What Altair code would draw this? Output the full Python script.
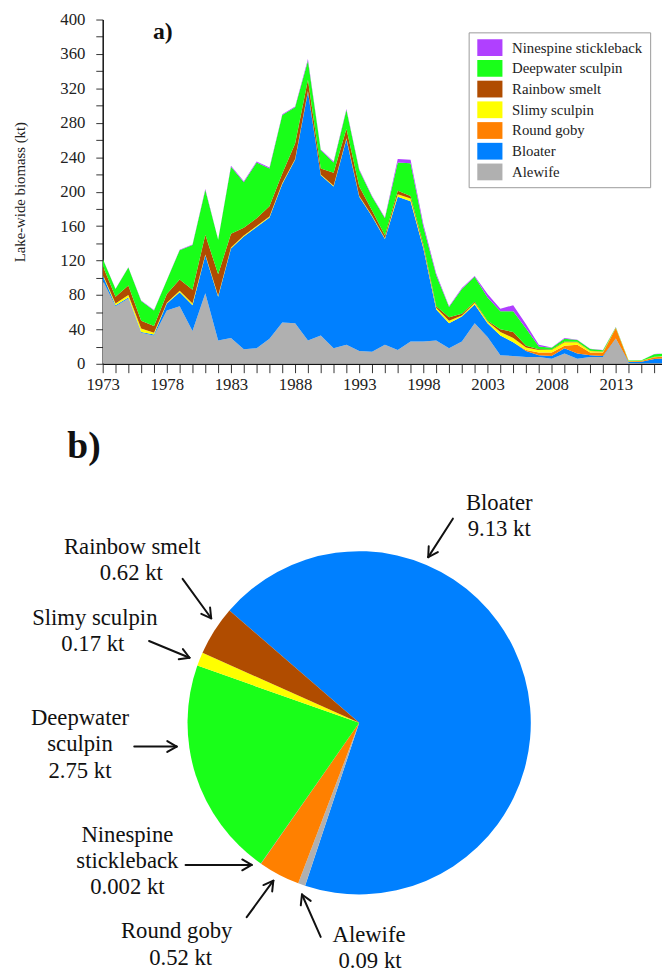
import math
import altair as alt
import pandas as pd

# ---------------- data: panel a (stacked biomass, kt) ----------------
years = list(range(1973, 2018))
alewife = [97, 67, 76, 36, 33, 62, 67, 38, 82, 27, 30, 17, 18, 29, 48, 47, 27, 33, 18, 22,
           15, 14, 22, 16, 26, 26, 27, 18, 26, 47, 31, 10, 9, 8, 8, 6, 12, 6, 8, 8,
           29, 1, 0.5, 0.5, 0.5]
bloater = [6, 1, 1, 1, 1, 8, 16, 30, 44, 51, 104, 131, 141, 141, 161, 190, 289, 186, 188, 239,
           179, 157, 123, 178, 163, 108, 36, 29, 29, 22, 16, 23, 16, 7, 2, 3, 6, 6, 2, 1,
           0.5, 1, 2, 5, 6]
round_goby = [0, 0, 0, 0, 0, 0, 0, 0, 0, 0, 0, 0, 0, 0, 0, 0, 0, 0, 0, 0,
              0, 0, 0, 0, 0, 0, 0, 0, 0, 0, 0, 0, 0, 1, 3, 4, 3, 10, 3, 4,
              12, 1, 0.8, 2, 2]
slimy_sculpin = [1, 2, 3, 4, 2, 1, 2, 2, 1, 1, 1, 1, 1, 1, 1, 1, 1, 1, 1, 1,
                 1, 1, 1, 3, 3, 2, 2, 3, 1, 2, 2, 4, 5, 3, 3, 3, 4, 3, 2, 1,
                 0.3, 0.2, 0.2, 0.5, 0.5]
rainbow_smelt = [10, 8, 11, 9, 8, 10, 13, 16, 23, 25, 16, 9, 9, 12, 11, 18, 13, 7, 15, 11,
                 11, 6, 3, 4, 3, 3, 2, 4, 2, 1, 1, 3, 7, 2, 1, 0.5, 1, 0.5, 0.2, 0.2,
                 0.2, 0.1, 0.1, 0.2, 0.2]
deepwater_sculpin = [8, 9, 21, 23, 18, 16, 34, 52, 52, 40, 78, 53, 65, 44, 68, 42, 22, 21, 12, 22,
                     19, 16, 20, 33, 38, 20, 36, 12, 29, 29, 27, 21, 24, 20, 3, 2, 3, 2, 2, 1.5,
                     0.5, 0.5, 0.5, 3, 3]
ninespine_stickleback = [0.3, 0.3, 0.3, 0.5, 0.5, 0.5, 0.5, 0.5, 1, 0.5, 1, 1, 1, 1, 1, 1, 2, 1, 1, 1,
                         1, 1, 1, 4, 4, 3, 2, 1, 1, 1, 4, 3, 7, 5, 2, 0.5, 1, 0.5, 0.3, 0.3,
                         0.2, 0.1, 0.1, 0.2, 0.2]

# legend order (top to bottom) and colours
species = ["Ninespine stickleback", "Deepwater sculpin", "Rainbow smelt", "Slimy sculpin",
           "Round goby", "Bloater", "Alewife"]
colors = ["#B040FF", "#19FF19", "#B04C00", "#FFFF00", "#FF8000", "#0080FF", "#B0B0B0"]

# ---------------- data: panel b (pie, kt) ----------------
pie_species = ["Bloater", "Alewife", "Round goby", "Ninespine stickleback",
               "Deepwater sculpin", "Slimy sculpin", "Rainbow smelt"]
pie_values = [9.13, 0.09, 0.52, 0.002, 2.75, 0.17, 0.62]

# ---------------- tables ----------------
series = {
    "Alewife": alewife, "Bloater": bloater, "Round goby": round_goby,
    "Slimy sculpin": slimy_sculpin, "Rainbow smelt": rainbow_smelt,
    "Deepwater sculpin": deepwater_sculpin, "Ninespine stickleback": ninespine_stickleback,
}
rows = []
for rank, (sp, vals) in enumerate(series.items()):
    for yr, v in zip(years, vals):
        rows.append({"year": yr, "species": sp, "biomass": v, "rank": rank})
df = pd.DataFrame(rows)

pie_df = pd.DataFrame({
    "species": pie_species,
    "value": pie_values,
    "pord": list(range(len(pie_species))),
    "vtext": [f"{v} kt" for v in pie_values],
})

# ---------------- layout (pixels relative to plot origin) ----------------
OX, OY = 101, 15  # plot origin in the page
W, H = 567, 349
BDY = 5           # vertical nudge for panel b
SERIF = "Liberation Serif, Times New Roman, DejaVu Serif, serif"

def rel(x, y):
    return x - OX, y - OY

def relb(x, y):
    return x - OX, y - OY + BDY

name_lines = {
    "Deepwater sculpin": ["Deepwater", "sculpin"],
    "Ninespine stickleback": ["Ninespine", "stickleback"],
}
label_pos = {
    "Bloater": [(503, 500), (503, 527)],
    "Rainbow smelt": [(131, 545), (130, 571)],
    "Slimy sculpin": [(93, 617), (91, 643)],
    "Deepwater sculpin": [(78, 718), (78, 745), (78, 772)],
    "Ninespine stickleback": [(126, 837), (126, 863), (126, 889)],
    "Round goby": [(176, 934), (180, 961)],
    "Alewife": [(371, 938), (372, 965)],
}
arrows = [
    ((456, 516), (431, 555)),
    ((182, 577), (211, 617)),
    ((148, 640), (189, 657)),
    ((133, 747), (176, 747)),
    ((185, 867), (252, 867)),
    ((247, 920), (274, 883)),
    ((322, 940), (303, 897)),
]
PIE_C = relb(361, 723)
PIE_R = 174
start = math.radians(310.9)

# ---------------- chart ----------------
color_enc = alt.Color(
    "species:N",
    scale=alt.Scale(domain=species, range=colors),
    legend=alt.Legend(
        title=None, orient="none", legendX=371, legendY=13,
        symbolType="M-1.5,-1L1.5,-1L1.5,1L-1.5,1Z", symbolSize=289,
        symbolStrokeWidth=0, symbolOpacity=1,
        labelFont=SERIF, labelFontSize=15, labelColor="#222", labelLimit=300,
        padding=7, symbolOffset=6, labelOffset=14, rowPadding=4,
        strokeColor="#999", fillColor="white",
    ),
)

area = alt.Chart(df).mark_area(clip=True, interpolate="linear").encode(
    x=alt.X("year:Q",
            scale=alt.Scale(domain=[1973, 2016.6], nice=False, zero=False),
            axis=alt.Axis(title=None, values=years[:-1], format="d",
                          labelExpr="(datum.value - 1973) % 5 == 0 ? datum.label : ''",
                          labelOverlap=False, labelFlush=False, tickSize=9,
                          labelPadding=4, grid=False)),
    y=alt.Y("biomass:Q", stack="zero",
            scale=alt.Scale(domain=[0, 400], nice=False),
            axis=alt.Axis(title="Lake-wide biomass (kt)", values=list(range(0, 401, 20)),
                          labelExpr="datum.value % 40 == 0 ? datum.label : ''",
                          tickSize=7, labelPadding=11, titlePadding=33, grid=False)),
    color=color_enc,
    order=alt.Order("rank:Q", sort="ascending"),
)

layers = [area]

tag_df = pd.DataFrame({"t": ["a)", "b)"]})
layers.append(alt.Chart(tag_df).transform_filter(alt.datum.t == "a)").mark_text(
    font=SERIF, fontSize=24, fontWeight="bold", color="#111").encode(
    x=alt.value(rel(162, 28)[0]), y=alt.value(rel(162, 28)[1]), text="t:N"))
layers.append(alt.Chart(tag_df).transform_filter(alt.datum.t == "b)").mark_text(
    font=SERIF, fontSize=38, fontWeight="bold", color="#111").encode(
    x=alt.value(relb(82, 444)[0]), y=alt.value(relb(82, 444)[1]), text="t:N"))

pie = alt.Chart(pie_df).mark_arc(radius=PIE_R).encode(
    theta=alt.Theta("value:Q", stack=True,
                    scale=alt.Scale(range=[start, start + 2 * math.pi])),
    color=color_enc,
    order=alt.Order("pord:Q", sort="ascending"),
    x=alt.value(PIE_C[0]), y=alt.value(PIE_C[1]),
)
layers.append(pie)

# pie labels: species name lines + value line
for sp in pie_species:
    lines = name_lines.get(sp, [sp])
    pos = label_pos[sp]
    base = alt.Chart(pie_df).transform_filter(alt.datum.species == sp)
    for i, ln in enumerate(lines):
        x, y = relb(*pos[i])
        layers.append(base.transform_calculate(lab=f"'{ln}'").mark_text(
            font=SERIF, fontSize=23, color="#111", baseline="middle", align="center").encode(
            x=alt.value(x), y=alt.value(y), text="lab:N"))
    x, y = relb(*pos[len(lines)])
    layers.append(base.mark_text(
        font=SERIF, fontSize=23, color="#111", baseline="middle", align="center").encode(
        x=alt.value(x), y=alt.value(y), text="vtext:N"))

# arrows
dummy = pd.DataFrame({"k": [0]})
def seg(p, q):
    (x1, y1), (x2, y2) = relb(*p), relb(*q)
    return alt.Chart(dummy).mark_rule(color="#111", strokeWidth=2, strokeCap="round").encode(
        x=alt.value(x1), y=alt.value(y1), x2=alt.value(x2), y2=alt.value(y2))

for tail, tip in arrows:
    layers.append(seg(tail, tip))
    dx, dy = tip[0] - tail[0], tip[1] - tail[1]
    L = math.hypot(dx, dy)
    ux, uy = dx / L, dy / L
    for a in (math.radians(30), -math.radians(30)):
        hx = ux * math.cos(a) - uy * math.sin(a)
        hy = ux * math.sin(a) + uy * math.cos(a)
        layers.append(seg(tip, (tip[0] - 11 * hx, tip[1] - 11 * hy)))

chart = alt.layer(*layers).properties(
    width=W, height=H,
    padding={"left": 4, "top": -4, "right": 0, "bottom": 0},
    background="white",
).configure_view(stroke=None).configure_axis(
    labelFont=SERIF, labelFontSize=17, labelColor="#222",
    titleFont=SERIF, titleFontSize=15, titleFontWeight="normal", titleColor="#222",
    domainColor="#111", domainWidth=1.5, tickColor="#333", tickWidth=1,
)

chart.save("out.html", embed_options={"renderer": "svg", "actions": False})
